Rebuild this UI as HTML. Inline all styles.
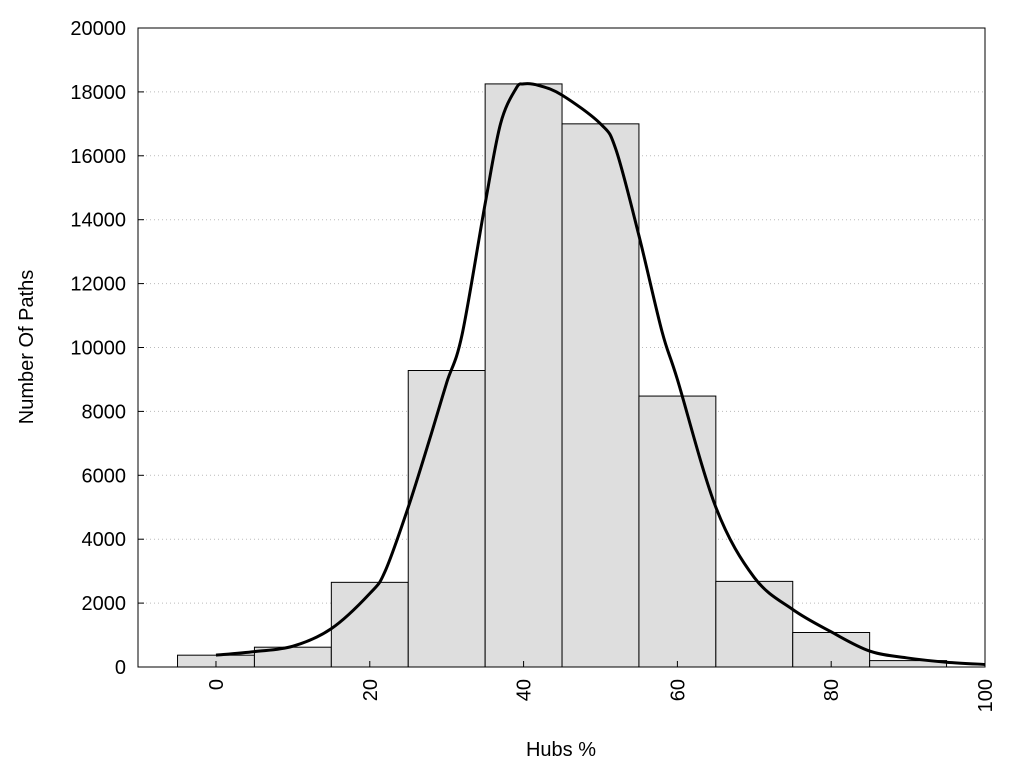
<!DOCTYPE html>
<html><head><meta charset="utf-8"><style>
body{margin:0;background:#fff;}
svg text{font-family:"Liberation Sans",Arial,sans-serif;font-size:20px;fill:#000;}
</style></head><body>
<svg id="chart" width="1024" height="768" xmlns="http://www.w3.org/2000/svg">
<g id="grid"></g>
<g id="bars"></g>
<g id="curve"></g>
<rect x="138" y="28" width="847" height="639" fill="none" stroke="#000" stroke-width="1"/>
<g id="yticks"></g>
<g id="xticks"></g>
<text transform="translate(33,347) rotate(-90)" text-anchor="middle">Number Of Paths</text>
<text x="561" y="756" text-anchor="middle">Hubs %</text>
</svg>
<script>
const binCenters=[0,10,20,30,40,50,60,70,80,90];
const binCounts=[370,620,2650,9280,18250,17000,8480,2680,1080,200];
const curveX=[0,5,10,15,20,22,25,28,30,32,35,37,39,40,42,45,50,52,55,58,60,65,70,75,80,85,90,95,100];
const curveY=[370,480,650,1200,2300,3000,5000,7300,8900,10400,14500,17000,18100,18250,18200,17900,17000,16200,13500,10500,9000,5000,2800,1800,1100,500,280,150,80];
const yTickVals=[0,2000,4000,6000,8000,10000,12000,14000,16000,18000,20000];
const xTickVals=[0,20,40,60,80,100];
const L=138,R=985,T=28,B=667,X0=-10.14,X1=100,Y0=0,Y1=20000;
const NS="http://www.w3.org/2000/svg";
const sx=v=>L+(v-X0)/(X1-X0)*(R-L);
const sy=v=>B-(v-Y0)/(Y1-Y0)*(B-T);
function mk(t,a,p){const e=document.createElementNS(NS,t);for(const k in a)e.setAttribute(k,a[k]);p.appendChild(e);return e;}
const grid=document.getElementById('grid'),bars=document.getElementById('bars'),yt=document.getElementById('yticks'),xt=document.getElementById('xticks'),cv=document.getElementById('curve');
yTickVals.forEach(v=>{
  if(v>0&&v<20000){const g=mk('line',{x1:L,x2:R,y1:sy(v),y2:sy(v),stroke:'#bbb','stroke-dasharray':'1,3'},grid);
  
  }
  const tk=mk('line',{x1:L,x2:L+6,y1:sy(v),y2:sy(v),stroke:'#000'},yt);
  
  
  const t=mk('text',{x:L-12,y:sy(v)+7,'text-anchor':'end'},yt);t.textContent=v;
  
  
});
xTickVals.forEach(v=>{
  const tk=mk('line',{x1:sx(v),x2:sx(v),y1:B,y2:B-6,stroke:'#000'},xt);
  
  
  const t=mk('text',{transform:`translate(${sx(v)+7},${B+12}) rotate(-90)`,'text-anchor':'end'},xt);t.textContent=v;
  
  
});
binCenters.forEach((c,i)=>{
  const x1=sx(c-5),x2=sx(c+5),y=sy(binCounts[i]);
  const r=mk('rect',{x:x1,y:y,width:x2-x1,height:B-y,fill:'#dedede',stroke:'#000','stroke-width':1},bars);
  
  
});
const pts=curveX.map((x,i)=>[sx(x),sy(curveY[i])]);
let d=`M${pts[0][0]},${pts[0][1]}`;
for(let i=0;i<pts.length-1;i++){
  const p0=pts[Math.max(0,i-1)],p1=pts[i],p2=pts[i+1],p3=pts[Math.min(pts.length-1,i+2)];
  const c1=[p1[0]+(p2[0]-p0[0])/6,p1[1]+(p2[1]-p0[1])/6],c2=[p2[0]-(p3[0]-p1[0])/6,p2[1]-(p3[1]-p1[1])/6];
  d+=` C${c1[0]},${c1[1]} ${c2[0]},${c2[1]} ${p2[0]},${p2[1]}`;
}
const path=mk('path',{d:d,fill:'none',stroke:'#000','stroke-width':3},cv);


</script>
</body></html>
